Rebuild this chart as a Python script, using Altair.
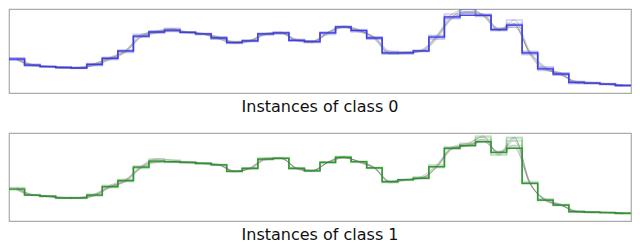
import altair as alt
import pandas as pd

# Piecewise-aggregate (40 segments) of the class means
main0 = [-0.13, -0.38, -0.44, -0.48, -0.50, -0.35, -0.10, 0.21, 0.83, 1.00,
         1.08, 0.98, 0.92, 0.75, 0.56, 0.63, 0.92, 0.96, 0.65, 0.60,
         0.96, 1.21, 1.06, 0.75, 0.13, 0.13, 0.21, 0.79, 1.63, 1.69,
         1.69, 1.10, 1.29, 0.13, -0.54, -0.75, -1.10, -1.13, -1.17, -1.23]
main1 = [-0.21, -0.46, -0.51, -0.58, -0.58, -0.46, -0.11, 0.14, 0.70, 0.95,
         0.93, 0.90, 0.86, 0.80, 0.53, 0.65, 1.04, 1.07, 0.65, 0.55,
         0.90, 1.11, 0.93, 0.67, 0.10, 0.18, 0.24, 0.72, 1.49, 1.60,
         1.76, 1.32, 1.49, 0.03, -0.67, -0.88, -1.15, -1.17, -1.19, -1.22]

# Individual instances (value at each segment centre)
inst0 = [
    [-0.08, -0.35, -0.45, -0.47, -0.52, -0.33, -0.05, 0.25, 0.85, 1.05, 1.15, 1.0, 0.9, 0.72, 0.52, 0.6, 0.95, 1.0, 0.62, 0.55,
     0.98, 1.25, 1.1, 0.7, 0.08, 0.1, 0.25, 0.85, 1.75, 1.95, 1.7, 1.05, 1.5, 0.2, -0.5, -0.8, -1.05, -1.1, -1.15, -1.2],
    [-0.15, -0.4, -0.42, -0.5, -0.48, -0.4, -0.15, 0.15, 0.78, 0.95, 1.05, 1.0, 0.95, 0.8, 0.6, 0.62, 0.88, 0.95, 0.7, 0.62,
     0.9, 1.18, 1.05, 0.8, 0.2, 0.15, 0.18, 0.7, 1.55, 1.8, 1.72, 1.15, 1.3, 0.05, -0.6, -0.72, -1.12, -1.15, -1.18, -1.25],
    [-0.1, -0.42, -0.46, -0.45, -0.5, -0.38, -0.12, 0.22, 0.9, 1.02, 1.1, 0.95, 0.9, 0.78, 0.58, 0.65, 0.9, 0.92, 0.66, 0.63,
     1.0, 1.22, 1.0, 0.78, 0.12, 0.1, 0.22, 0.82, 1.6, 2.05, 1.65, 1.1, 1.2, 0.15, -0.45, -0.78, -1.08, -1.12, -1.2, -1.24],
    [-0.18, -0.36, -0.43, -0.5, -0.47, -0.32, -0.08, 0.18, 0.8, 1.0, 1.02, 1.0, 0.92, 0.7, 0.55, 0.66, 0.93, 0.98, 0.64, 0.58,
     0.95, 1.2, 1.08, 0.72, 0.1, 0.16, 0.2, 0.75, 1.65, 1.85, 1.75, 1.12, 1.35, 0.1, -0.55, -0.7, -1.15, -1.14, -1.16, -1.22],
    [-0.12, -0.38, -0.44, -0.48, -0.51, -0.36, -0.1, 0.2, 0.82, 0.98, 1.08, 0.98, 0.92, 0.76, 0.56, 0.62, 0.92, 0.96, 0.65, 0.61,
     0.96, 1.2, 1.06, 0.76, 0.14, 0.13, 0.2, 0.8, 1.6, 1.75, 1.68, 1.08, 1.28, 0.12, -0.52, -0.76, -1.1, -1.13, -1.17, -1.23],
]
inst1 = [
    [-0.15, -0.45, -0.52, -0.6, -0.57, -0.42, -0.05, 0.2, 0.75, 1.05, 1.0, 0.92, 0.85, 0.78, 0.5, 0.68, 1.08, 1.1, 0.62, 0.52,
     0.92, 1.15, 0.9, 0.65, 0.05, 0.15, 0.3, 0.8, 1.55, 1.7, 1.95, 1.2, 1.9, 0.1, -0.7, -0.9, -1.12, -1.2, -1.2, -1.25],
    [-0.25, -0.48, -0.5, -0.56, -0.6, -0.5, -0.15, 0.1, 0.65, 0.9, 0.95, 0.88, 0.88, 0.82, 0.55, 0.62, 1.0, 1.05, 0.68, 0.58,
     0.88, 1.08, 0.95, 0.7, 0.12, 0.2, 0.22, 0.68, 1.45, 1.65, 2.0, 1.25, 1.8, 0.0, -0.62, -0.85, -1.18, -1.16, -1.18, -1.2],
    [-0.18, -0.44, -0.53, -0.58, -0.56, -0.45, -0.1, 0.16, 0.72, 1.0, 0.9, 0.9, 0.84, 0.8, 0.52, 0.66, 1.06, 1.06, 0.64, 0.56,
     0.9, 1.12, 0.92, 0.66, 0.08, 0.18, 0.26, 0.75, 1.5, 1.62, 1.85, 1.3, 1.95, 0.05, -0.68, -0.88, -1.15, -1.18, -1.19, -1.23],
    [-0.22, -0.47, -0.5, -0.59, -0.58, -0.47, -0.12, 0.12, 0.68, 0.95, 0.92, 0.9, 0.86, 0.79, 0.54, 0.64, 1.03, 1.08, 0.66, 0.55,
     0.9, 1.1, 0.94, 0.68, 0.1, 0.17, 0.23, 0.7, 1.48, 1.58, 1.78, 1.35, 1.6, 0.02, -0.66, -0.87, -1.15, -1.17, -1.19, -1.22],
    [-0.2, -0.46, -0.51, -0.57, -0.59, -0.46, -0.1, 0.14, 0.7, 0.93, 0.93, 0.9, 0.86, 0.8, 0.53, 0.65, 1.04, 1.07, 0.65, 0.55,
     0.9, 1.11, 0.93, 0.67, 0.1, 0.18, 0.24, 0.72, 1.49, 1.6, 1.76, 1.32, 1.5, 0.03, -0.67, -0.88, -1.15, -1.17, -1.19, -1.22],
]

titles = ["Instances of class 0", "Instances of class 1"]


def step_rows(vals, inst):
    rows = [{"inst": inst, "x": k, "v": v} for k, v in enumerate(vals)]
    rows.append({"inst": inst, "x": len(vals), "v": vals[-1]})
    return rows


def panel(main, insts, color, faint, height, ydom, title):
    raw = pd.DataFrame([{"inst": j, "x": k + 0.5, "v": v}
                        for j, s in enumerate(insts) for k, v in enumerate(s)])
    steps = pd.DataFrame([r for j, s in enumerate(insts) for r in step_rows(s, j)])
    mean = pd.DataFrame(step_rows(main, 0))
    X = alt.X("x:Q", scale=alt.Scale(domain=[0, 40], nice=False, zero=False), axis=None)
    Y = alt.Y("v:Q", scale=alt.Scale(domain=ydom, nice=False, zero=False), axis=None)
    faint_l = alt.Chart(steps).mark_line(interpolate="step-after", color=faint, clip=True,
                                         strokeWidth=1.6, opacity=0.3).encode(X, Y, detail="inst:N")
    gray_l = alt.Chart(raw).mark_line(interpolate="monotone", color="#777777", clip=True,
                                      strokeWidth=0.9, opacity=0.42).encode(X, Y, detail="inst:N")
    main_l = alt.Chart(mean).mark_line(interpolate="step-after", color=color, clip=True,
                                       strokeWidth=1.3, opacity=0.9).encode(X, Y)
    return alt.layer(faint_l, gray_l, main_l).properties(
        width=622, height=height,
        title=alt.TitleParams(title, orient="bottom", fontSize=16, font="DejaVu Sans",
                              fontWeight="normal", color="#111111", offset=6))


p0 = panel(main0, inst0, "#3535e8", "#5a5aee", 84, [-1.542, 1.958], titles[0])
p1 = panel(main1, inst1, "#2a8f2a", "#50b050", 88, [-1.542, 2.125], titles[1])

chart = alt.vconcat(p0, p1, spacing=16, padding=0).configure_view(
    stroke="#aaaaaa", strokeWidth=1.2)

chart.save("out.html", embed_options={"renderer": "svg", "actions": False})
